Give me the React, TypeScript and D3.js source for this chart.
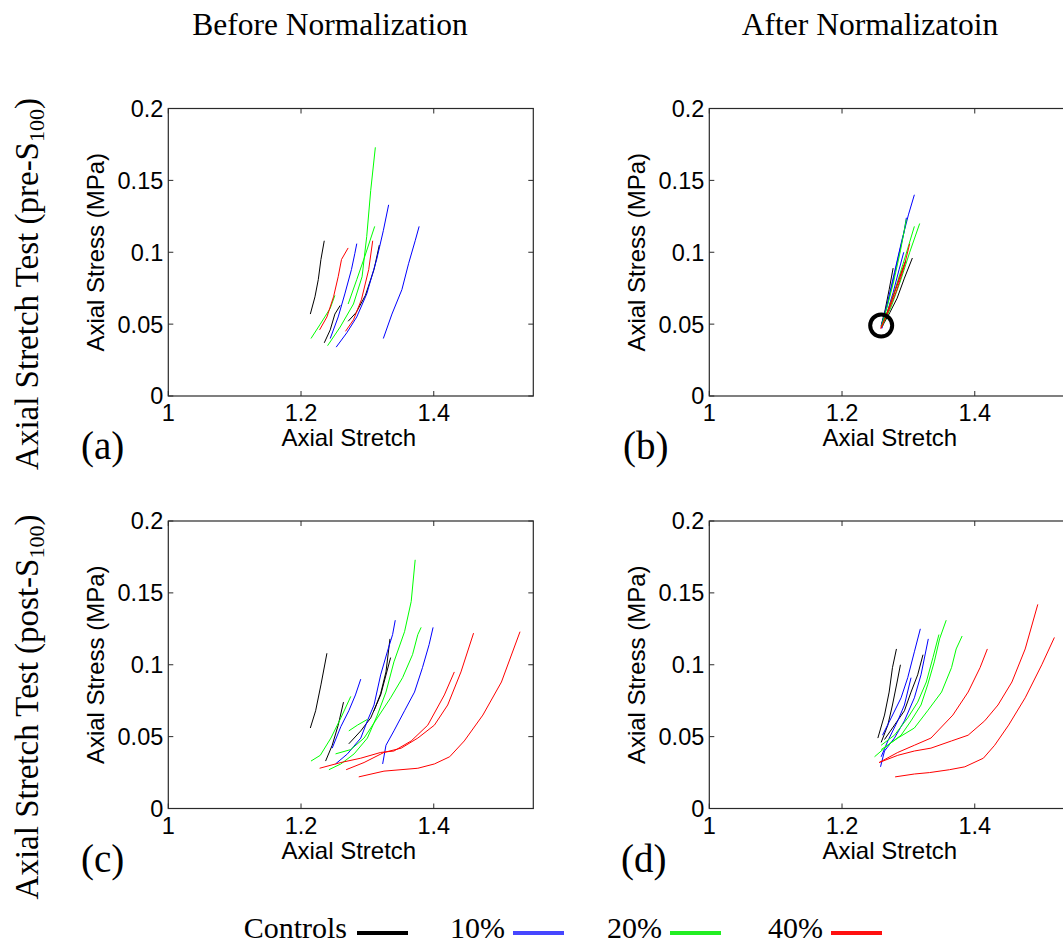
import React from "react";
import * as d3 from "d3";

type Pt = [number, number];

// ---------- tick values ----------
const xTicks = [1, 1.2, 1.4];
const xTickLabels = ["1", "1.2", "1.4"];
const yTicks = [0, 0.05, 0.1, 0.15, 0.2];
const yTickLabels = ["0", "0.05", "0.1", "0.15", "0.2"];

// ---------- legend ----------
const groups = ["Controls", "10%", "20%", "40%"];

// ---------- panel (a): before normalization, pre-S100 ----------
const aControls: Pt[][] = [
  [[1.214, 0.057], [1.221, 0.069], [1.226, 0.081], [1.230, 0.095], [1.235, 0.108]],
  [[1.235, 0.037], [1.244, 0.046], [1.251, 0.057], [1.259, 0.063]],
  [[1.271, 0.052], [1.283, 0.058], [1.297, 0.070], [1.310, 0.088], [1.318, 0.105]],
];
const a10: Pt[][] = [
  [[1.244, 0.040], [1.256, 0.055], [1.266, 0.071], [1.276, 0.088], [1.281, 0.099], [1.284, 0.106]],
  [[1.253, 0.034], [1.269, 0.044], [1.284, 0.055], [1.299, 0.071], [1.314, 0.095], [1.324, 0.115], [1.332, 0.133]],
  [[1.324, 0.040], [1.337, 0.057], [1.352, 0.074], [1.362, 0.092], [1.372, 0.108], [1.378, 0.118]],
];
const a20: Pt[][] = [
  [[1.215, 0.040], [1.229, 0.050], [1.244, 0.061], [1.251, 0.070]],
  [[1.240, 0.035], [1.259, 0.048], [1.279, 0.064], [1.292, 0.083], [1.299, 0.111], [1.305, 0.143], [1.312, 0.173]],
  [[1.271, 0.064], [1.284, 0.081], [1.296, 0.097], [1.311, 0.118]],
];
const a40: Pt[][] = [
  [[1.228, 0.046], [1.239, 0.055], [1.249, 0.069], [1.256, 0.083], [1.261, 0.095], [1.271, 0.103]],
  [[1.267, 0.045], [1.279, 0.053], [1.291, 0.067], [1.302, 0.088], [1.308, 0.108]],
];

// ---------- panel (b): after normalization, pre-S100 ----------
const bControls: Pt[][] = [
  [[1.259, 0.049], [1.265, 0.060], [1.271, 0.074], [1.277, 0.089]],
  [[1.260, 0.048], [1.272, 0.058], [1.283, 0.068], [1.294, 0.082], [1.306, 0.096]],
  [[1.261, 0.050], [1.270, 0.060], [1.279, 0.072], [1.288, 0.084], [1.296, 0.094]],
];
const b10: Pt[][] = [
  [[1.259, 0.048], [1.268, 0.064], [1.279, 0.086], [1.290, 0.108], [1.300, 0.126], [1.309, 0.140]],
  [[1.259, 0.049], [1.267, 0.061], [1.276, 0.078], [1.285, 0.097], [1.293, 0.113], [1.297, 0.124]],
  [[1.260, 0.047], [1.268, 0.058], [1.277, 0.072], [1.286, 0.088], [1.293, 0.100]],
];
const b20: Pt[][] = [
  [[1.260, 0.048], [1.274, 0.062], [1.288, 0.080], [1.302, 0.100], [1.317, 0.120]],
  [[1.260, 0.049], [1.272, 0.063], [1.284, 0.080], [1.296, 0.098], [1.309, 0.118]],
  [[1.259, 0.048], [1.268, 0.062], [1.278, 0.080], [1.288, 0.101], [1.297, 0.123]],
];
const b40: Pt[][] = [
  [[1.258, 0.047], [1.270, 0.059], [1.282, 0.073], [1.293, 0.089], [1.302, 0.106]],
  [[1.259, 0.047], [1.268, 0.058], [1.278, 0.071], [1.288, 0.084], [1.295, 0.093]],
];
const bReferencePoint: Pt = [1.259, 0.049];

// ---------- panel (c): before normalization, post-S100 ----------
const cControls: Pt[][] = [
  [[1.214, 0.056], [1.222, 0.068], [1.230, 0.086], [1.239, 0.108]],
  [[1.237, 0.033], [1.247, 0.044], [1.256, 0.058], [1.264, 0.074]],
  [[1.272, 0.045], [1.290, 0.054], [1.305, 0.063], [1.320, 0.079], [1.335, 0.105]],
  [[1.310, 0.068], [1.320, 0.080], [1.328, 0.095], [1.334, 0.118]],
];
const c10: Pt[][] = [
  [[1.247, 0.042], [1.260, 0.057], [1.272, 0.068], [1.282, 0.079], [1.290, 0.090]],
  [[1.252, 0.031], [1.270, 0.038], [1.290, 0.049], [1.300, 0.061], [1.310, 0.072], [1.320, 0.093], [1.330, 0.109], [1.338, 0.121], [1.342, 0.131]],
  [[1.323, 0.031], [1.328, 0.044], [1.340, 0.054], [1.356, 0.068], [1.371, 0.081], [1.383, 0.098], [1.393, 0.114], [1.399, 0.126]],
];
const c20: Pt[][] = [
  [[1.215, 0.033], [1.229, 0.037], [1.245, 0.049], [1.260, 0.063], [1.275, 0.078]],
  [[1.242, 0.027], [1.260, 0.031], [1.280, 0.038], [1.300, 0.049], [1.315, 0.065], [1.328, 0.081], [1.340, 0.102], [1.356, 0.123], [1.366, 0.144], [1.372, 0.173]],
  [[1.252, 0.038], [1.275, 0.041], [1.295, 0.049], [1.315, 0.063], [1.335, 0.077], [1.353, 0.091], [1.368, 0.107], [1.376, 0.121], [1.381, 0.126]],
  [[1.272, 0.054], [1.285, 0.058], [1.300, 0.062]],
];
const c40: Pt[][] = [
  [[1.228, 0.028], [1.260, 0.032], [1.290, 0.035], [1.320, 0.039], [1.340, 0.040], [1.366, 0.047], [1.391, 0.058], [1.416, 0.079], [1.431, 0.095]],
  [[1.268, 0.027], [1.295, 0.032], [1.325, 0.039], [1.351, 0.042], [1.376, 0.049], [1.401, 0.058], [1.421, 0.072], [1.441, 0.095], [1.460, 0.122]],
  [[1.287, 0.022], [1.325, 0.026], [1.376, 0.028], [1.401, 0.031], [1.424, 0.036], [1.446, 0.047], [1.474, 0.065], [1.502, 0.088], [1.530, 0.123]],
];

// ---------- panel (d): after normalization, post-S100 ----------
const dControls: Pt[][] = [
  [[1.254, 0.049], [1.264, 0.065], [1.271, 0.081], [1.276, 0.098], [1.282, 0.111]],
  [[1.259, 0.046], [1.269, 0.058], [1.276, 0.072], [1.283, 0.088], [1.288, 0.100]],
  [[1.264, 0.048], [1.279, 0.058], [1.294, 0.068], [1.304, 0.081], [1.314, 0.093], [1.322, 0.107]],
];
const d10: Pt[][] = [
  [[1.261, 0.051], [1.274, 0.063], [1.289, 0.077], [1.299, 0.091], [1.309, 0.109], [1.318, 0.125]],
  [[1.258, 0.029], [1.264, 0.040], [1.279, 0.049], [1.294, 0.061], [1.309, 0.077], [1.319, 0.093], [1.330, 0.118]],
  [[1.259, 0.036], [1.269, 0.047], [1.284, 0.061], [1.294, 0.072], [1.304, 0.091]],
];
const d20: Pt[][] = [
  [[1.249, 0.036], [1.269, 0.044], [1.289, 0.051], [1.304, 0.061], [1.319, 0.072], [1.329, 0.086], [1.339, 0.102], [1.347, 0.118], [1.357, 0.131]],
  [[1.259, 0.041], [1.284, 0.049], [1.309, 0.056], [1.329, 0.068], [1.350, 0.081], [1.365, 0.098], [1.372, 0.111], [1.381, 0.120]],
  [[1.259, 0.044], [1.279, 0.051], [1.299, 0.063], [1.314, 0.074], [1.327, 0.088], [1.337, 0.105], [1.346, 0.121]],
];
const d40: Pt[][] = [
  [[1.256, 0.032], [1.284, 0.039], [1.309, 0.044], [1.334, 0.049], [1.367, 0.065], [1.390, 0.081], [1.408, 0.098], [1.419, 0.111]],
  [[1.256, 0.032], [1.284, 0.037], [1.309, 0.040], [1.334, 0.042], [1.365, 0.047], [1.390, 0.051], [1.415, 0.061], [1.435, 0.072], [1.456, 0.088], [1.476, 0.111], [1.495, 0.142]],
  [[1.280, 0.022], [1.309, 0.024], [1.332, 0.025], [1.362, 0.027], [1.385, 0.029], [1.413, 0.035], [1.430, 0.044], [1.451, 0.058], [1.476, 0.077], [1.501, 0.100], [1.520, 0.119]],
];

// ---------- styling ----------
const lineColors = ["#000000", "#0000ff", "#00ff00", "#ff0000"];
const legendColors = ["#000000", "#4646ff", "#22ee22", "#ff1010"];
const SANS = "'Liberation Sans', Arial, Helvetica, sans-serif";
const SERIF = "'Liberation Serif', 'Times New Roman', Times, serif";

const W = 1063;
const H = 946;
const PW = 365;
const PH = 287.5;

interface PanelProps {
  left: number;
  top: number;
  data: Pt[][][];
  letter: string;
  letterX: number;
  marker?: Pt;
}

function Panel({ left, top, data, letter, letterX, marker }: PanelProps) {
  const x = d3.scaleLinear().domain([1, 1.55]).range([left, left + PW]);
  const y = d3.scaleLinear().domain([0, 0.2]).range([top + PH, top]);
  const line = d3
    .line<Pt>()
    .x((d) => x(d[0]))
    .y((d) => y(d[1]));
  const bottom = top + PH;
  const right = left + PW;
  const tl = 5;
  const axisColor = "#2a2a2a";
  return (
    <g>
      {data.map((grp, gi) =>
        grp.map((pts, i) => (
          <path
            key={`${gi}-${i}`}
            d={line(pts) || ""}
            fill="none"
            stroke={lineColors[gi]}
            strokeWidth={1}
            strokeLinejoin="round"
          />
        ))
      )}
      {marker && (
        <circle cx={x(marker[0])} cy={y(marker[1])} r={11} fill="none" stroke="#000" strokeWidth={4} />
      )}
      <rect x={left} y={top} width={PW} height={PH} fill="none" stroke={axisColor} strokeWidth={1.2} />
      {xTicks.map((t, i) => (
        <g key={`xt${i}`}>
          <line x1={x(t)} x2={x(t)} y1={bottom} y2={bottom - tl} stroke={axisColor} strokeWidth={1} />
          <line x1={x(t)} x2={x(t)} y1={top} y2={top + tl} stroke={axisColor} strokeWidth={1} />
          <text x={x(t)} y={bottom + 25} fontFamily={SANS} fontSize={23.5} textAnchor="middle" fill="#000">
            {xTickLabels[i]}
          </text>
        </g>
      ))}
      {yTicks.map((t, i) => (
        <g key={`yt${i}`}>
          <line x1={left} x2={left + tl} y1={y(t)} y2={y(t)} stroke={axisColor} strokeWidth={1} />
          <line x1={right} x2={right - tl} y1={y(t)} y2={y(t)} stroke={axisColor} strokeWidth={1} />
          <text x={left - 5} y={y(t) + 8.4} fontFamily={SANS} fontSize={23.5} textAnchor="end" fill="#000">
            {yTickLabels[i]}
          </text>
        </g>
      ))}
      <text x={left + PW / 2 - 2} y={bottom + 50} fontFamily={SANS} fontSize={24} textAnchor="middle" fill="#000">
        Axial Stretch
      </text>
      <text
        transform={`translate(${left - 64},${top + PH / 2}) rotate(-90)`}
        fontFamily={SANS}
        fontSize={24}
        textAnchor="middle"
        fill="#000"
      >
        Axial Stress (MPa)
      </text>
      <text x={letterX} y={bottom + 63} fontFamily={SERIF} fontSize={39} fill="#000">
        {letter}
      </text>
    </g>
  );
}

export default function App() {
  return (
    <svg
      width={W}
      height={H}
      viewBox={`0 0 ${W} ${H}`}
      style={{ position: "absolute", left: 0, top: 0, background: "#fff" }}
    >
      <rect x={0} y={0} width={W} height={H} fill="#fff" />
      <text x={330} y={35} fontFamily={SERIF} fontSize={31.5} textAnchor="middle" fill="#000">
        Before Normalization
      </text>
      <text x={870} y={35} fontFamily={SERIF} fontSize={31.5} textAnchor="middle" fill="#000">
        After Normalizatoin
      </text>
      <text transform="translate(38,284) rotate(-90)" fontFamily={SERIF} fontSize={33} textAnchor="middle" fill="#000">
        Axial Stretch Test (pre-S
        <tspan fontSize={22} dy={6}>100</tspan>
        <tspan dy={-6}>)</tspan>
      </text>
      <text transform="translate(38,707) rotate(-90)" fontFamily={SERIF} fontSize={33} textAnchor="middle" fill="#000">
        Axial Stretch Test (post-S
        <tspan fontSize={22} dy={6}>100</tspan>
        <tspan dy={-6}>)</tspan>
      </text>

      <Panel left={168.3} top={108.5} data={[aControls, a10, a20, a40]} letter="(a)" letterX={81} />
      <Panel left={709.3} top={108.5} data={[bControls, b10, b20, b40]} letter="(b)" letterX={623} marker={bReferencePoint} />
      <Panel left={168.3} top={521} data={[cControls, c10, c20, c40]} letter="(c)" letterX={81} />
      <Panel left={709.3} top={521} data={[dControls, d10, d20, d40]} letter="(d)" letterX={621} />

      {groups.map((g, i) => {
        const tx = [347, 505, 662, 823][i];
        const lx = [357, 513, 670, 831][i];
        return (
          <g key={g}>
            <text x={tx} y={938} fontFamily={SERIF} fontSize={30} textAnchor="end" fill="#000">
              {g}
            </text>
            <line x1={lx} x2={lx + 51} y1={933} y2={933} stroke={legendColors[i]} strokeWidth={4} />
          </g>
        );
      })}
    </svg>
  );
}
